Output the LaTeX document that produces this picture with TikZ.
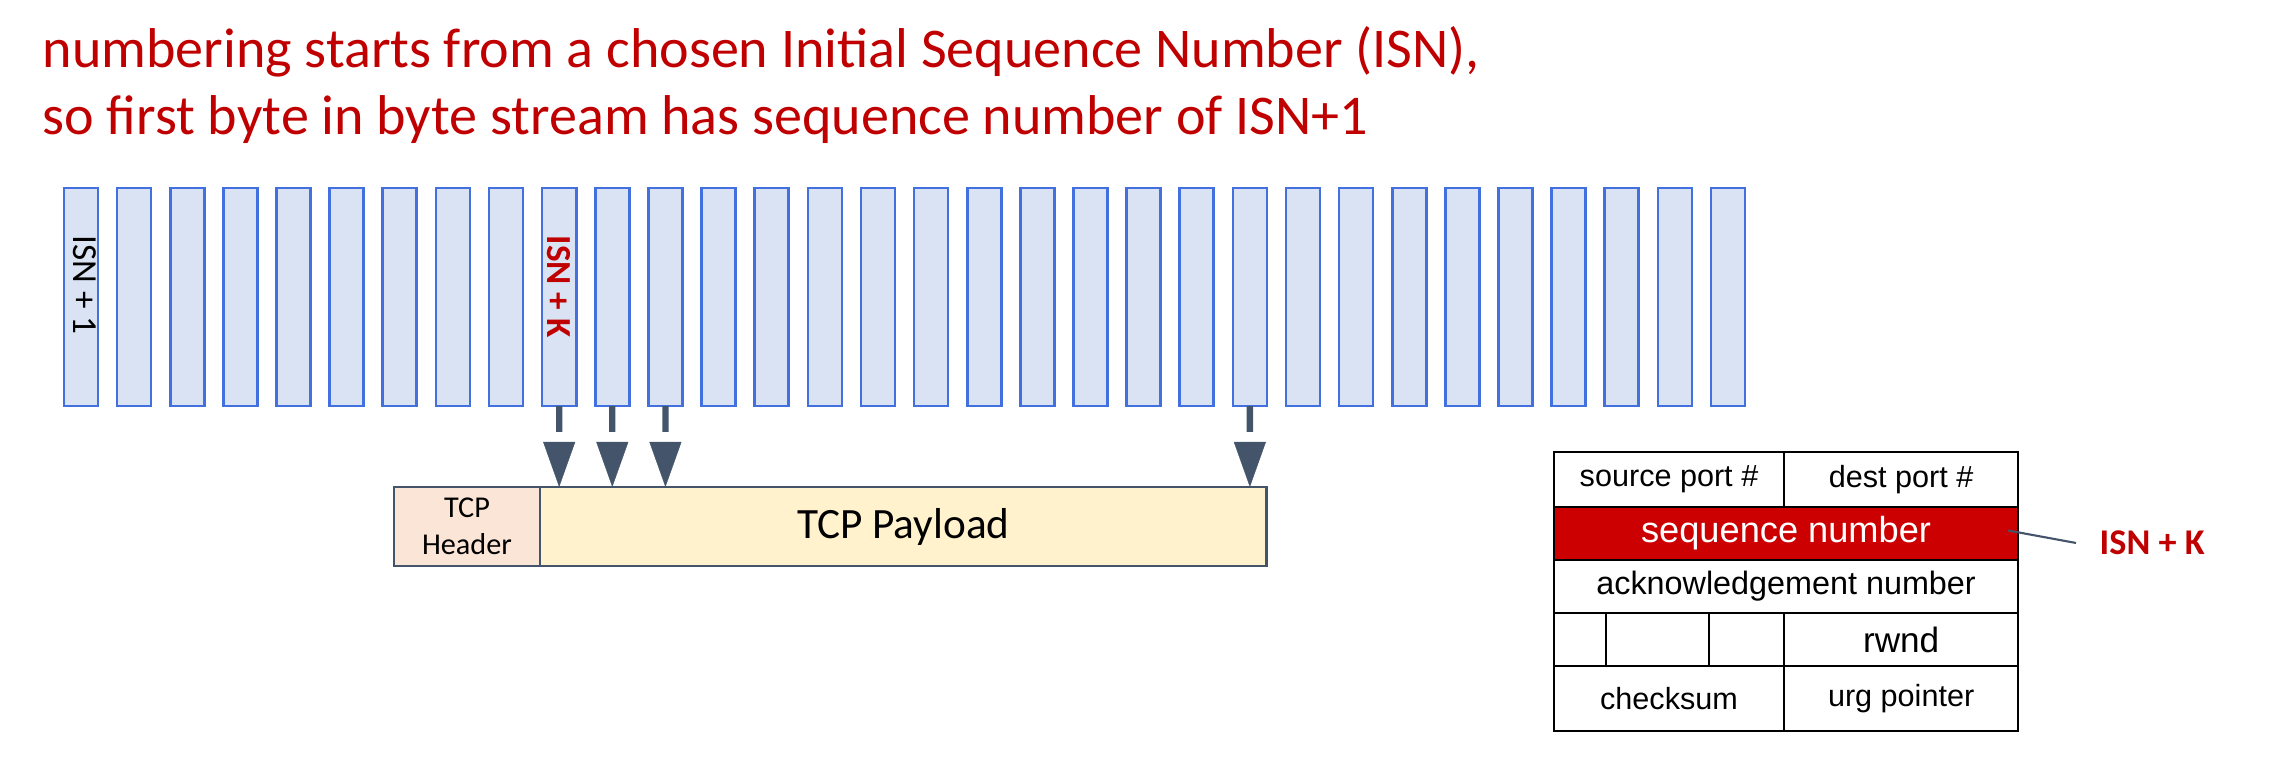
\documentclass[tikz,border=0pt]{standalone}
\usepackage{fontspec}
\setmainfont{Carlito}
\newfontfamily\arialf{Liberation Sans}
\usepackage{xcolor}
\usetikzlibrary{positioning, arrows.meta, calc}

\definecolor{bytefill}{RGB}{218,227,243}
\definecolor{bytedraw}{RGB}{66,112,222}
\definecolor{isnred}{RGB}{192,0,0}
\definecolor{seqred}{RGB}{204,0,0}
\definecolor{slate}{RGB}{68,84,106}
\definecolor{hdrfill}{RGB}{251,229,214}
\definecolor{payfill}{RGB}{255,242,204}

\begin{document}
\begin{tikzpicture}[x=0.01cm, y=0.01cm,
    byte/.style={draw=bytedraw, fill=bytefill, line width=0.75pt, minimum width=0.34cm, minimum height=2.18cm, inner sep=0, outer sep=0},
    title/.style={text=isnred, inner sep=0, anchor=base west, font=\fontsize{15.95}{19}\selectfont},
    stem/.style={draw=slate, line width=1.8pt},
    head/.style={draw=slate, fill=slate, line width=0.1pt, -{Triangle[length=4.5mm, width=3.2mm]}},
    segbox/.style={draw=slate, line width=0.8pt, minimum height=0.79cm, inner sep=0, outer sep=0},
    field/.style={draw, line width=0.6pt, minimum height=0.53cm, inner sep=0, outer sep=0, font=\arialf\fontsize{8.7}{10}\selectfont},
    leader/.style={draw=slate, line width=0.6pt}]
  \useasboundingbox (0,0) rectangle (2273,768);

  % heading
  \node[title] (line1) at (42,700) {numbering starts from a chosen Initial Sequence Number (ISN),};
  \node[title] (line2) at (42,633) {so first byte in byte stream has sequence number of ISN+1};

  % byte stream
  \node[byte] (b1) at (81,471) {};
  \foreach \i [count=\j] in {2,...,32}
    \node[byte, right=0.191cm of b\j] (b\i) {};

  \node[rotate=-90, anchor=west, inner sep=0, font=\fontsize{10}{12}\selectfont] (isn1) at ($(b1.north)+(4,-47)$) {ISN + 1};
  \node[rotate=-90, anchor=west, inner sep=0, text=isnred, font=\bfseries\fontsize{10}{12}\selectfont] (isnk) at ($(b10.north)+(0,-47)$) {ISN + K};

  % segment
  \node[segbox, fill=hdrfill, minimum width=1.46cm, align=center, font=\fontsize{8.6}{10.5}\selectfont] (hdr) at (467,241.5) {TCP\\Header};
  \node[segbox, fill=payfill, minimum width=7.26cm, font=\fontsize{12.3}{14}\selectfont, right=0pt of hdr] (pay) {TCP Payload};

  \foreach \k in {10,11,12,23} {
    \draw[stem] (b\k.south) -- ($(b\k.south)!0.32!(b\k.south |- pay.north)$);
    \draw[head] ($(b\k.south |- pay.north)+(0,45)$) -- (b\k.south |- pay.north);
  }

  % tcp header fields
  \node[field, minimum width=2.30cm, minimum height=0.55cm] (src) at (1669,288.5) {source port \#};
  \node[field, minimum width=2.34cm, minimum height=0.55cm, right=0pt of src] (dst) {dest port \#};
  \node[field, fill=seqred, text=white, minimum width=4.64cm, anchor=north west, font=\arialf\fontsize{10.3}{12}\selectfont] (seq) at (src.south west) {sequence number};
  \node[field, minimum width=4.64cm, anchor=north west, font=\arialf\fontsize{9.2}{11}\selectfont] (ack) at (seq.south west) {acknowledgement number};
  \node[field, minimum width=0.52cm, anchor=north west] (f1) at (ack.south west) {};
  \node[field, minimum width=1.03cm, right=0pt of f1] (f2) {};
  \node[field, minimum width=0.75cm, right=0pt of f2] (f3) {};
  \node[field, minimum width=2.34cm, right=0pt of f3, font=\arialf\fontsize{10}{12}\selectfont] (rwnd) {rwnd};
  \node[field, minimum width=2.30cm, minimum height=0.65cm, anchor=north west] (cks) at (f1.south west) {checksum};
  \node[field, minimum width=2.34cm, minimum height=0.65cm, right=0pt of cks] (urg) {urg pointer};

  \node[inner sep=0, anchor=west, text=isnred, font=\bfseries\fontsize{10.3}{12}\selectfont] (isnlbl) at (2099,225) {ISN + K};
  \draw[leader] ([xshift=-0.1cm, yshift=0.03cm]seq.east) -- ([xshift=-0.23cm]isnlbl.west);
\end{tikzpicture}
\end{document}
